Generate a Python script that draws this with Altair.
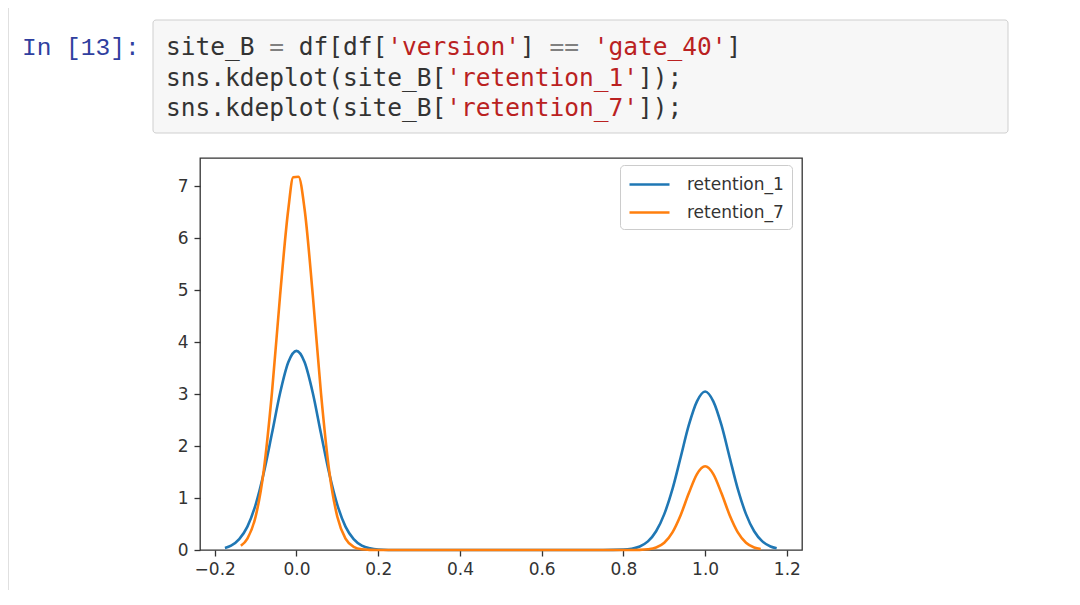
import altair as alt
import pandas as pd

# ---- chart values ----
series_names = ["retention_1", "retention_7"]
series_colors = ["#1f77b4", "#ff7f0e"]

r1_x = [-0.175, -0.16, -0.14, -0.12, -0.10, -0.08, -0.06, -0.04, -0.02, 0.0,
        0.02, 0.04, 0.06, 0.08, 0.10, 0.12, 0.14, 0.16, 0.18, 0.20,
        0.25, 0.30, 0.40, 0.50, 0.60, 0.70, 0.75, 0.80, 0.82, 0.84,
        0.86, 0.88, 0.90, 0.92, 0.94, 0.96, 0.98, 1.0, 1.02, 1.04,
        1.06, 1.08, 1.10, 1.12, 1.14, 1.16, 1.175]
r1_y = [0.040, 0.085, 0.21, 0.45, 0.87, 1.48, 2.24, 3.02, 3.61, 3.83,
        3.61, 3.02, 2.24, 1.48, 0.87, 0.45, 0.21, 0.085, 0.031, 0.010,
        0.0, 0.0, 0.0, 0.0, 0.0, 0.0, 0.0, 0.008, 0.025, 0.068,
        0.165, 0.36, 0.69, 1.17, 1.78, 2.40, 2.86, 3.05, 2.86, 2.40,
        1.78, 1.17, 0.69, 0.36, 0.165, 0.068, 0.032]

r7_x = [-0.136, -0.12, -0.10, -0.08, -0.06, -0.04, -0.02, -0.008, 0.005, 0.02,
        0.04, 0.06, 0.08, 0.10, 0.12, 0.14, 0.16, 0.18, 0.20, 0.30,
        0.40, 0.50, 0.60, 0.70, 0.80, 0.82, 0.84, 0.86, 0.88, 0.90,
        0.92, 0.94, 0.96, 0.98, 1.0, 1.02, 1.04, 1.06, 1.08, 1.10,
        1.12, 1.136]
r7_y = [0.081, 0.22, 0.64, 1.53, 3.02, 4.90, 6.55, 7.17, 7.18, 6.55,
        4.90, 3.02, 1.53, 0.64, 0.22, 0.062, 0.014, 0.003, 0.0, 0.0,
        0.0, 0.0, 0.0, 0.0, 0.0, 0.001, 0.003, 0.014, 0.049, 0.14,
        0.34, 0.67, 1.09, 1.46, 1.61, 1.46, 1.09, 0.67, 0.34, 0.14,
        0.049, 0.018]

x_ticks = [-0.2, 0.0, 0.2, 0.4, 0.6, 0.8, 1.0, 1.2]
y_ticks = [0, 1, 2, 3, 4, 5, 6, 7]

# ---- notebook cell text ----
prompt_text = "In [13]:"
code_tokens = [  # (line, column, text, kind)
    (0, 0, "site_B", "n"), (0, 7, "=", "o"), (0, 9, "df[df[", "n"),
    (0, 15, "'version'", "s"), (0, 24, "]", "n"), (0, 26, "==", "o"),
    (0, 29, "'gate_40'", "s"), (0, 38, "]", "n"),
    (1, 0, "sns.kdeplot(site_B[", "n"), (1, 19, "'retention_1'", "s"), (1, 32, "]);", "n"),
    (2, 0, "sns.kdeplot(site_B[", "n"), (2, 19, "'retention_7'", "s"), (2, 32, "]);", "n"),
]
kind_color = {"n": "#333333", "o": "#808080", "s": "#BA2121"}

df = pd.concat([
    pd.DataFrame({"x": r1_x, "density": r1_y, "series": series_names[0]}),
    pd.DataFrame({"x": r7_x, "density": r7_y, "series": series_names[1]}),
], ignore_index=True)

PLOT_W, PLOT_H = 602, 392
OX, OY = 200, 158          # page position of the plot area
CW = 14.75                 # monospace character advance
FS = 24.5
BASELINES = [55, 86, 116]


def one():
    return pd.DataFrame({"k": [0]})


layers = []

# left notebook border
layers.append(
    alt.Chart(one()).mark_rule(color="#e0e0e0", strokeWidth=1).encode(
        x=alt.value(8.5 - OX), y=alt.value(-OY + 8), y2=alt.value(PLOT_H + 40)
    )
)

# code cell box
layers.append(
    alt.Chart(one()).mark_rect(fill="#f7f7f7", stroke="#cfcfcf", strokeWidth=1,
                               cornerRadius=3).encode(
        x=alt.value(153 - OX), x2=alt.value(1008 - OX),
        y=alt.value(20 - OY), y2=alt.value(133 - OY)
    )
)

# prompt
layers.append(
    alt.Chart(pd.DataFrame({"t": [prompt_text]})).mark_text(
        font="Liberation Mono", fontSize=FS, color="#303F9F", align="left",
        baseline="alphabetic"
    ).encode(text="t:N", x=alt.value(22 - OX), y=alt.value(BASELINES[0] - OY))
)

for line, col, txt, kind in code_tokens:
    layers.append(
        alt.Chart(pd.DataFrame({"t": [txt]})).mark_text(
            font="DejaVu Sans Mono", fontSize=FS, color=kind_color[kind],
            align="left", baseline="alphabetic"
        ).encode(text="t:N", x=alt.value(166 - OX + col * CW),
                 y=alt.value(BASELINES[line] - OY))
    )

lines = alt.Chart(df).mark_line(interpolate="monotone", strokeWidth=2.6).encode(
    x=alt.X("x:Q",
            scale=alt.Scale(domain=[-0.236, 1.237], nice=False, zero=False),
            axis=alt.Axis(values=x_ticks, format=".1f", title=None, labelPadding=5)),
    y=alt.Y("density:Q",
            scale=alt.Scale(domain=[0, 7.54], nice=False, zero=False),
            axis=alt.Axis(values=y_ticks, format="d", title=None, labelPadding=6)),
    color=alt.Color("series:N",
                    scale=alt.Scale(domain=series_names, range=series_colors),
                    legend=alt.Legend(title=None, orient="none", legendX=420, legendY=7,
                                      symbolType="M-1,0H3", symbolSize=400,
                                      symbolStrokeWidth=2.6, labelFont="DejaVu Sans",
                                      labelFontSize=17, labelColor="#333333",
                                      labelOffset=36, rowPadding=8, padding=8,
                                      strokeColor="#cccccc", fillColor="white",
                                      cornerRadius=4)),
)
layers.append(lines)

chart = alt.layer(*layers).properties(
    width=PLOT_W, height=PLOT_H,
    autosize=alt.AutoSizeParams(type="none"),
    padding={"left": OX - 8, "top": OY - 8, "right": 240, "bottom": 40},
    background="white",
).configure_view(
    stroke="#333333", strokeWidth=1.3
).configure_axis(
    domain=False, grid=False, labelFont="DejaVu Sans", labelFontSize=17,
    labelColor="#333333", tickColor="#333333", tickSize=6, tickWidth=1.3
)

chart.save("out.html", embed_options={"renderer": "svg", "actions": False})
